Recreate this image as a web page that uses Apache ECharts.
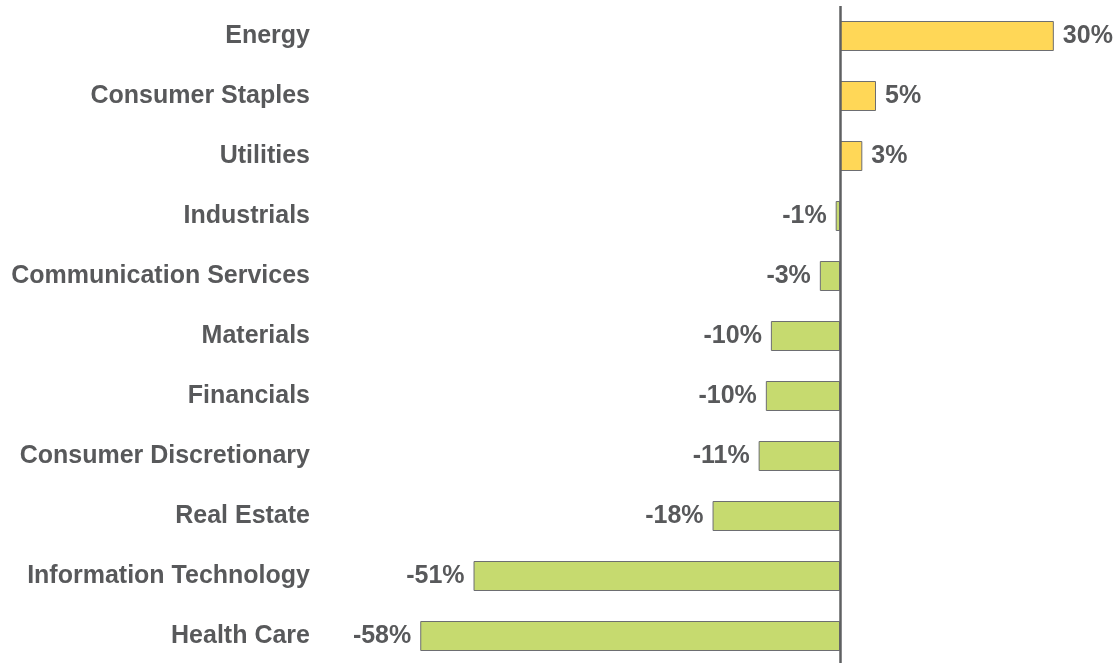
<!DOCTYPE html>
<html>
<head>
<meta charset="utf-8">
<script src="https://cdn.jsdelivr.net/npm/echarts@6/dist/echarts.min.js"></script>
<style>
  html, body { margin: 0; padding: 0; background: #fff; }
  #chart { width: 1120px; height: 663px; }
</style>
</head>
<body>
<div id="chart"></div>
<script>
const sectors = ['Energy', 'Consumer Staples', 'Utilities', 'Industrials', 'Communication Services', 'Materials', 'Financials', 'Consumer Discretionary', 'Real Estate', 'Information Technology', 'Health Care'];
const changes = [29.7, 5.0, 3.1, -0.6, -2.8, -9.6, -10.3, -11.3, -17.7, -50.9, -58.3];

const fontFamily = '"Liberation Sans", Arial, sans-serif';
const textColor = '#58595b';

const chart = echarts.init(document.getElementById('chart'));
chart.setOption({
  animation: false,
  grid: { left: 408, top: 6, width: 705.6, height: 660, outerBoundsMode: 'none', containLabel: false },
  xAxis: {
    type: 'value',
    min: -60,
    max: 38,
    show: false,
  },
  yAxis: {
    type: 'category',
    inverse: true,
    data: sectors,
    axisLine: { show: false, onZero: false },
    axisTick: { show: false },
    axisLabel: {
      margin: 98,
      color: textColor,
      fontFamily,
      fontWeight: 'bold',
      fontSize: 25,
    },
  },
  series: [
    {
      type: 'bar',
      barWidth: 30,
      data: changes.map((v) => ({
        value: v,
        itemStyle: { color: v >= 0 ? '#ffd757' : '#c6da6f' },
        label: { position: v >= 0 ? 'right' : 'left' },
      })),
      itemStyle: { borderColor: '#6d6e71', borderWidth: 1 },
      label: {
        show: true,
        distance: 9,
        color: textColor,
        fontFamily,
        fontWeight: 'bold',
        fontSize: 25,
        formatter: (p) => `${Math.round(p.value)}%`,
      },
      markLine: {
        silent: true,
        symbol: 'none',
        label: { show: false },
        lineStyle: { color: '#5f6062', width: 2.5, type: 'solid' },
        data: [{ xAxis: 0 }],
      },
    },
  ],
});
</script>
</body>
</html>
